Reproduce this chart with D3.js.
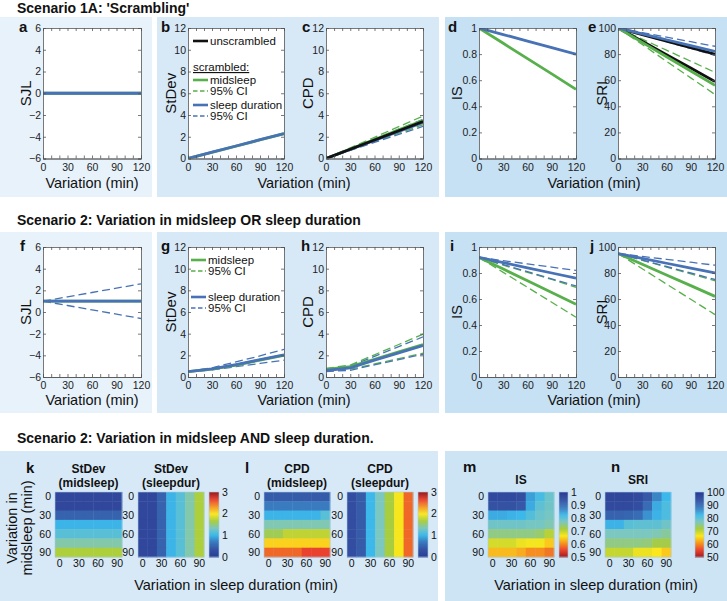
<!DOCTYPE html>
<html><head><meta charset="utf-8">
<script src="https://cdn.jsdelivr.net/npm/d3@7"></script>
<style>body{margin:0;background:#fff}svg{display:block}text{font-family:"Liberation Sans",Arial,Helvetica,sans-serif}</style>
</head><body><svg id="c" width="727" height="601"></svg>
<script>
// ---------------- DATA ----------------
const variation = [0, 30, 60, 90, 120];
const xTicks = [0, 30, 60, 90, 120];
const xMinor = [0,10,20,30,40,50,60,70,80,90,100,110,120];
const sjlTicks = [-6, -4, -2, 0, 2, 4, 6];
const cntTicks = [0, 2, 4, 6, 8, 10, 12];
const isTicks = [0, 0.2, 0.4, 0.6, 0.8, 1];
const sriTicks = [0, 20, 40, 60, 80, 100];

// Scenario 1A
const a_mid = [0, 0, 0, 0, 0];
const a_dur = [0, 0, 0, 0, 0];
const b_mid = [0, 0.57, 1.14, 1.71, 2.28];
const b_dur = [0, 0.58, 1.15, 1.73, 2.3];
const c_unscr = [0, 0.85, 1.7, 2.55, 3.4];
const c_mid = [0, 0.88, 1.75, 2.63, 3.5];
const c_midLo = [0, 0.78, 1.55, 2.33, 3.1];
const c_midHi = [0, 0.98, 1.95, 2.93, 3.9];
const c_dur = [0, 0.83, 1.65, 2.48, 3.3];
const c_durLo = [0, 0.74, 1.48, 2.22, 2.95];
const c_durHi = [0, 0.9, 1.8, 2.7, 3.6];
const d_mid = [1, 0.883, 0.765, 0.648, 0.53];
const d_dur = [1, 0.95, 0.9, 0.85, 0.8];
const e_unscrMid = [100, 89.8, 79.5, 69.3, 59];
const e_unscrDur = [100, 95, 90, 85, 80];
const e_mid = [100, 89, 78, 67, 56];
const e_midLo = [100, 87.3, 74.5, 61.8, 49];
const e_midHi = [100, 91.5, 83, 74.5, 66];
const e_dur = [100, 95.5, 91, 86.5, 82];
const e_durLo = [100, 94.8, 89.5, 84.3, 79];
const e_durHi = [100, 96.5, 93, 89.5, 86];

// Scenario 2 (OR)
const f_mid = [1, 1, 1, 1, 1];
const f_dur = [1, 1, 1, 1, 1];
const f_durLo = [1, 0.6, 0.2, -0.2, -0.6];
const f_durHi = [1, 1.4, 1.8, 2.2, 2.6];
const g_mid = [0.5, 0.72, 1.1, 1.55, 2.0];
const g_dur = [0.5, 0.75, 1.15, 1.6, 2.05];
const g_durLo = [0.5, 0.65, 0.95, 1.25, 1.55];
const g_durHi = [0.5, 0.85, 1.4, 1.95, 2.55];
const h_mid = [0.7, 0.95, 1.63, 2.32, 3.0];
const h_midLo = [0.6, 0.72, 1.2, 1.7, 2.2];
const h_midHi = [0.8, 1.1, 2.05, 3.0, 3.95];
const h_dur = [0.6, 0.85, 1.55, 2.22, 2.9];
const h_durLo = [0.5, 0.62, 1.12, 1.6, 2.1];
const h_durHi = [0.7, 1.0, 1.9, 2.8, 3.7];
const i_mid = [0.92, 0.83, 0.74, 0.65, 0.56];
const i_midLo = [0.92, 0.805, 0.69, 0.575, 0.46];
const i_midHi = [0.92, 0.86, 0.805, 0.75, 0.69];
const i_dur = [0.92, 0.88, 0.84, 0.8, 0.76];
const i_durLo = [0.92, 0.865, 0.81, 0.755, 0.7];
const i_durHi = [0.92, 0.895, 0.87, 0.845, 0.82];
const j_mid = [95, 86.8, 78.5, 70.3, 62];
const j_midLo = [95, 83.3, 71.5, 59.8, 48];
const j_midHi = [95, 89.8, 84.5, 79.3, 74];
const j_dur = [95, 91.3, 87.5, 83.8, 80];
const j_durLo = [95, 90, 85, 80, 75];
const j_durHi = [95, 92.8, 90.5, 88.3, 86];

// Scenario 2 (AND) heatmaps: rows = variation in midsleep, cols = variation in sleep duration
const heatSteps = [0, 15, 30, 45, 60, 75, 90];
const heatTicks = [0, 30, 60, 90];
const k_mid = [
  [0.2,0.2,0.2,0.2,0.2,0.2,0.2],
  [0.2,0.2,0.2,0.2,0.2,0.2,0.2],
  [0.5,0.5,0.5,0.5,0.5,0.5,0.5],
  [1.0,1.0,1.0,1.0,1.0,1.0,1.0],
  [1.17,1.17,1.17,1.17,1.17,1.17,1.17],
  [1.4,1.4,1.4,1.4,1.4,1.4,1.4],
  [1.7,1.7,1.7,1.7,1.7,1.7,1.7]];
const k_dur = [
  [0.2,0.2,0.5,1.0,1.17,1.4,1.7],
  [0.2,0.2,0.5,1.0,1.17,1.4,1.7],
  [0.2,0.2,0.5,1.0,1.17,1.4,1.7],
  [0.2,0.2,0.5,1.0,1.17,1.4,1.7],
  [0.2,0.2,0.5,1.0,1.17,1.4,1.7],
  [0.2,0.2,0.5,1.0,1.17,1.4,1.7],
  [0.2,0.2,0.5,1.0,1.17,1.4,1.7]];
const l_mid = [
  [0.45,0.45,0.45,0.45,0.45,0.45,0.45],
  [0.72,0.72,0.72,0.72,0.72,0.72,0.72],
  [1.0,1.0,1.0,1.0,1.0,1.0,1.17],
  [1.38,1.38,1.38,1.38,1.38,1.38,1.38],
  [1.62,1.62,1.77,1.77,1.77,1.77,1.77],
  [2.1,2.1,2.1,2.1,2.1,2.1,2.1],
  [2.52,2.52,2.52,2.52,2.67,2.67,2.67]];
const l_dur = [
  [0.3,0.45,1.02,1.35,1.68,2.0,2.52],
  [0.3,0.45,1.02,1.35,1.68,2.0,2.52],
  [0.3,0.45,1.02,1.35,1.68,2.0,2.52],
  [0.3,0.45,1.02,1.35,1.68,2.0,2.52],
  [0.3,0.45,1.02,1.35,1.68,2.0,2.52],
  [0.3,0.45,1.02,1.35,1.68,2.0,2.52],
  [0.3,0.45,1.02,1.35,1.68,2.0,2.52]];
const m_is = [
  [0.96,0.96,0.96,0.95,0.85,0.82,0.79],
  [0.94,0.94,0.94,0.93,0.84,0.80,0.785],
  [0.84,0.84,0.835,0.83,0.81,0.79,0.78],
  [0.785,0.785,0.785,0.785,0.78,0.78,0.77],
  [0.75,0.75,0.75,0.75,0.75,0.74,0.71],
  [0.69,0.69,0.69,0.675,0.67,0.67,0.645],
  [0.635,0.635,0.635,0.625,0.605,0.605,0.59]];
const n_sri = [
  [97,97,97,96,93,87,83],
  [96,96,96,95,90,84,81.5],
  [91.5,91.5,91,90,86,83.5,81.5],
  [83.5,83.5,80.5,80,80,80,78.5],
  [77.5,77.5,77.5,77.5,77.5,77,76],
  [75,75,75,75,74.5,72.5,72.5],
  [70,70,70,67.5,67.5,66.5,64.5]];
const cbStdTicks = [0, 1, 2, 3];
const cbIsTicks = [0.5, 0.6, 0.7, 0.8, 0.9, 1];
const cbSriTicks = [50, 60, 70, 80, 90, 100];

// colormap
const cmapT = [0, 0.125, 0.25, 0.34, 0.45, 0.56, 0.67, 0.78, 0.89, 1];
const cmapC = ["#2a3a92","#3553a3","#3a7fc2","#3cb8ea","#7cc7bf","#a8cd3e","#fbe71b","#f7951f","#e9422e","#9a1c1f"];

// ---------------- DRAW ----------------
const svg = d3.select('#c');
const GREEN = '#57b04b', BLUE = '#4872b6', BLACK = '#111';
const cmap = d3.scaleLinear().domain(cmapT).range(cmapC).interpolate(d3.interpolateRgb).clamp(true);

// background boxes
[[0,17,152,180,'#e7f2fb'],[157,17,282,180,'#d7e9f7'],[445,17,282,180,'#c6e0f4'],
 [0,232,152,181,'#e7f2fb'],[157,232,282,181,'#d7e9f7'],[445,232,282,181,'#c6e0f4'],
 [0,451,438,150,'#d7e9f7'],[445,451,282,150,'#cde4f5']].forEach(b=>{
  svg.append('rect').attr('x',b[0]).attr('y',b[1]).attr('width',b[2]).attr('height',b[3]).attr('fill',b[4]);
});

function txt(x,y,s,opt={}){
  const t=svg.append('text').attr('x',x).attr('y',y).text(s)
    .attr('font-size',opt.size||12).attr('fill',opt.fill||'#111');
  if(opt.bold) t.attr('font-weight','bold');
  if(opt.anchor) t.attr('text-anchor',opt.anchor);
  if(opt.rot) t.attr('transform',`rotate(-90,${x},${y})`);
  return t;
}

txt(17,13,"Scenario 1A: 'Scrambling'",{size:14,bold:true});
txt(17,225,"Scenario 2: Variation in midsleep OR sleep duration",{size:14,bold:true});
txt(17,443,"Scenario 2: Variation in midsleep AND sleep duration.",{size:14,bold:true});

let clipId=0;
function linePanel(p){
  const x=d3.scaleLinear().domain([0,120]).range([p.x0,p.x1]);
  const y=d3.scaleLinear().domain(p.dom).range([p.y1,p.y0]);
  const g=svg.append('g');
  g.append('rect').attr('x',p.x0).attr('y',p.y0).attr('width',p.x1-p.x0).attr('height',p.y1-p.y0).attr('fill','#fff');
  const cid='clip'+(clipId++);
  g.append('clipPath').attr('id',cid).append('rect').attr('x',p.x0).attr('y',p.y0).attr('width',p.x1-p.x0).attr('height',p.y1-p.y0);
  const lg=g.append('g').attr('clip-path',`url(#${cid})`);
  const line=d3.line().x((d,i)=>x(variation[i])).y(d=>y(d));
  p.series.forEach(s=>{
    lg.append('path').attr('d',line(s.v)).attr('fill','none').attr('stroke',s.c)
      .attr('stroke-width',s.dash?1.3:2.8).attr('stroke-dasharray',s.dash?'8,4':null);
  });
  const ax=(sel)=>{sel.select('.domain').attr('stroke','#555').attr('stroke-width',0.8);
    sel.selectAll('.tick line').attr('stroke','#555').attr('stroke-width',0.8);
    sel.selectAll('.tick text').attr('fill','#222').attr('font-size',10.5).attr('font-family','"Liberation Sans",Arial,sans-serif');};
  g.append('g').attr('transform',`translate(0,${p.y1})`).call(d3.axisBottom(x).tickValues(xTicks).tickSize(0).tickPadding(5)).call(ax);
  g.append('g').attr('transform',`translate(0,${p.y1})`).call(d3.axisBottom(x).tickValues(xMinor).tickSize(-3).tickFormat('')).call(ax);
  g.append('g').attr('transform',`translate(0,${p.y0})`).call(d3.axisTop(x).tickValues(xMinor).tickSize(-3).tickFormat('')).call(ax);
  g.append('g').attr('transform',`translate(${p.x0},0)`).call(d3.axisLeft(y).tickValues(p.ticks).tickSize(-3).tickPadding(2).tickFormat(d3.format('~g'))).call(ax);
  g.append('g').attr('transform',`translate(${p.x1},0)`).call(d3.axisRight(y).tickValues(p.ticks).tickSize(-3).tickFormat('')).call(ax);
  txt(p.ylabX,(p.y0+p.y1)/2,p.ylab,{size:15,anchor:'middle',rot:true});
  txt(p.letterX,p.y0+4,p.letter,{size:15,bold:true});
}

const R1={y0:28,y1:158.5}, R2={y0:247,y1:377};
const XS={a:[43,141],b:[188,284],c:[326,423],d:[479,576],e:[618,715]};
const S=(v,c,dash)=>({v,c,dash:!!dash});

linePanel({...R1,x0:XS.a[0],x1:XS.a[1],dom:[-6,6],ticks:sjlTicks,ylab:'SJL',ylabX:31,letter:'a',letterX:19,
  series:[S(a_mid,GREEN),S(a_dur,BLUE)]});
linePanel({...R1,x0:XS.b[0],x1:XS.b[1],dom:[0,12],ticks:cntTicks,ylab:'StDev',ylabX:176,letter:'b',letterX:161,
  series:[S(b_mid,GREEN),S(b_dur,BLUE)]});
linePanel({...R1,x0:XS.c[0],x1:XS.c[1],dom:[0,12],ticks:cntTicks,ylab:'CPD',ylabX:313,letter:'c',letterX:302,
  series:[S(c_midLo,GREEN,1),S(c_midHi,GREEN,1),S(c_durLo,BLUE,1),S(c_durHi,BLUE,1),S(c_mid,GREEN),S(c_dur,BLUE),S(c_unscr,BLACK)]});
linePanel({...R1,x0:XS.d[0],x1:XS.d[1],dom:[0,1],ticks:isTicks,ylab:'IS',ylabX:462,letter:'d',letterX:448,
  series:[S(d_mid,GREEN),S(d_dur,BLUE)]});
linePanel({...R1,x0:XS.e[0],x1:XS.e[1],dom:[0,100],ticks:sriTicks,ylab:'SRI',ylabX:607,letter:'e',letterX:588,
  series:[S(e_midLo,GREEN,1),S(e_midHi,GREEN,1),S(e_durLo,BLUE,1),S(e_durHi,BLUE,1),S(e_unscrMid,BLACK),S(e_unscrDur,BLACK),S(e_mid,GREEN),S(e_dur,BLUE)]});

linePanel({...R2,x0:XS.a[0],x1:XS.a[1],dom:[-6,6],ticks:sjlTicks,ylab:'SJL',ylabX:31,letter:'f',letterX:20,
  series:[S(f_durLo,BLUE,1),S(f_durHi,BLUE,1),S(f_mid,GREEN),S(f_dur,BLUE)]});
linePanel({...R2,x0:XS.b[0],x1:XS.b[1],dom:[0,12],ticks:cntTicks,ylab:'StDev',ylabX:176,letter:'g',letterX:161,
  series:[S(g_durLo,BLUE,1),S(g_durHi,BLUE,1),S(g_mid,GREEN),S(g_dur,BLUE)]});
linePanel({...R2,x0:XS.c[0],x1:XS.c[1],dom:[0,12],ticks:cntTicks,ylab:'CPD',ylabX:313,letter:'h',letterX:301,
  series:[S(h_midLo,GREEN,1),S(h_midHi,GREEN,1),S(h_durLo,BLUE,1),S(h_durHi,BLUE,1),S(h_mid,GREEN),S(h_dur,BLUE)]});
linePanel({...R2,x0:XS.d[0],x1:XS.d[1],dom:[0,1],ticks:isTicks,ylab:'IS',ylabX:462,letter:'i',letterX:450,
  series:[S(i_midLo,GREEN,1),S(i_midHi,GREEN,1),S(i_durLo,BLUE,1),S(i_durHi,BLUE,1),S(i_mid,GREEN),S(i_dur,BLUE)]});
linePanel({...R2,x0:XS.e[0],x1:XS.e[1],dom:[0,100],ticks:sriTicks,ylab:'SRI',ylabX:607,letter:'j',letterX:590,
  series:[S(j_midLo,GREEN,1),S(j_midHi,GREEN,1),S(j_durLo,BLUE,1),S(j_durHi,BLUE,1),S(j_mid,GREEN),S(j_dur,BLUE)]});

// x labels rows 1 & 2
[[92,188],[304,188],[594,188],[92,405],[304,405],[594,405]].forEach(p=>txt(p[0],p[1],'Variation (min)',{size:14.5,anchor:'middle'}));

// legends
function legendItem(x,y,c,dash,label){
  svg.append('line').attr('x1',x).attr('x2',x+15).attr('y1',y).attr('y2',y).attr('stroke',c)
    .attr('stroke-width',dash?1.6:2.6).attr('stroke-dasharray',dash?'4.5,2.5':null);
  txt(x+17,y+4,label,{size:11.5});
}
legendItem(193,41,BLACK,false,'unscrambled');
txt(193,71,'scrambled:',{size:11.5}).attr('text-decoration','underline');
legendItem(193,80,GREEN,false,'midsleep');
legendItem(193,91,GREEN,true,'95% CI');
legendItem(193,105,BLUE,false,'sleep duration');
legendItem(193,116,BLUE,true,'95% CI');

legendItem(191,260,GREEN,false,'midsleep');
legendItem(191,271,GREEN,true,'95% CI');
legendItem(191,297,BLUE,false,'sleep duration');
legendItem(191,308,BLUE,true,'95% CI');

// heatmaps
const HY0=492, HY1=557;
function heatmap(h){
  const x=d3.scaleBand().domain(heatSteps).range([h.x0,h.x1]);
  const y=d3.scaleBand().domain(heatSteps).range([HY0,HY1]);
  const t=d3.scaleLinear().domain(h.dom).range(h.rev?[1,0]:[0,1]);
  const g=svg.append('g');
  h.data.forEach((row,ri)=>row.forEach((v,ci)=>{
    g.append('rect').attr('x',x(heatSteps[ci])).attr('y',y(heatSteps[ri]))
     .attr('width',x.bandwidth()+0.4).attr('height',y.bandwidth()+0.4).attr('fill',cmap(t(v)));
  }));
  g.append('rect').attr('x',h.x0).attr('y',HY0).attr('width',h.x1-h.x0).attr('height',HY1-HY0)
    .attr('fill','none').attr('stroke','#a8cde8').attr('stroke-width',0.6);
  heatTicks.forEach(v=>{
    txt(x(v)+x.bandwidth()/2,567,String(v),{size:10.5,anchor:'middle'});
    txt(h.x0-4,y(v)+y.bandwidth()/2+3.8,String(v),{size:10.5,anchor:'end'});
  });
  if(h.title){
    h.title.forEach((s,i)=>txt((h.x0+h.x1)/2,h.titleY+i*14,s,{size:12,bold:true,anchor:'middle'}));
  }
}
function colorbar(c){
  const y=d3.scaleLinear().domain(c.dom).range([HY1,HY0]);
  const t=d3.scaleLinear().domain(c.dom).range(c.rev?[1,0]:[0,1]);
  const n=64, step=(c.dom[1]-c.dom[0])/n;
  for(let i=0;i<n;i++){
    const v0=c.dom[0]+i*step, v1=v0+step;
    svg.append('rect').attr('x',c.x0).attr('y',y(v1)).attr('width',c.x1-c.x0).attr('height',y(v0)-y(v1)+0.5)
      .attr('fill',cmap(t((v0+v1)/2)));
  }
  svg.append('rect').attr('x',c.x0).attr('y',HY0).attr('width',c.x1-c.x0).attr('height',HY1-HY0)
    .attr('fill','none').attr('stroke','#a8cde8').attr('stroke-width',0.6);
  c.ticks.forEach(v=>txt(c.x1+3,y(v)+3.8,d3.format('~g')(v),{size:10.5}));
}

heatmap({x0:55,x1:122,data:k_mid,dom:[0,3],title:['StDev','(midsleep)'],titleY:473});
heatmap({x0:138,x1:204,data:k_dur,dom:[0,3],title:['StDev','(sleepdur)'],titleY:473});
colorbar({x0:209,x1:219,dom:[0,3],ticks:cbStdTicks});
heatmap({x0:264,x1:330,data:l_mid,dom:[0,3],title:['CPD','(midsleep)'],titleY:473});
heatmap({x0:347,x1:413,data:l_dur,dom:[0,3],title:['CPD','(sleepdur)'],titleY:473});
colorbar({x0:418,x1:428,dom:[0,3],ticks:cbStdTicks});
heatmap({x0:488,x1:554,data:m_is,dom:[0.5,1],rev:true,title:['IS'],titleY:484});
colorbar({x0:559,x1:568,dom:[0.5,1],rev:true,ticks:cbIsTicks});
heatmap({x0:605,x1:671,data:n_sri,dom:[50,100],rev:true,title:['SRI'],titleY:484});
colorbar({x0:695,x1:704,dom:[50,100],rev:true,ticks:cbSriTicks});

txt(26,473,'k',{size:15,bold:true});
txt(245,473,'l',{size:15,bold:true});
txt(463,472,'m',{size:15,bold:true});
txt(611,472,'n',{size:15,bold:true});

txt(17,528,'Variation in',{size:14.5,anchor:'middle',rot:true});
txt(32,528,'midsleep (min)',{size:14.5,anchor:'middle',rot:true});
txt(236,590,'Variation in sleep duration (min)',{size:14.5,anchor:'middle'});
txt(596,590,'Variation in sleep duration (min)',{size:14.5,anchor:'middle'});
</script></body></html>
